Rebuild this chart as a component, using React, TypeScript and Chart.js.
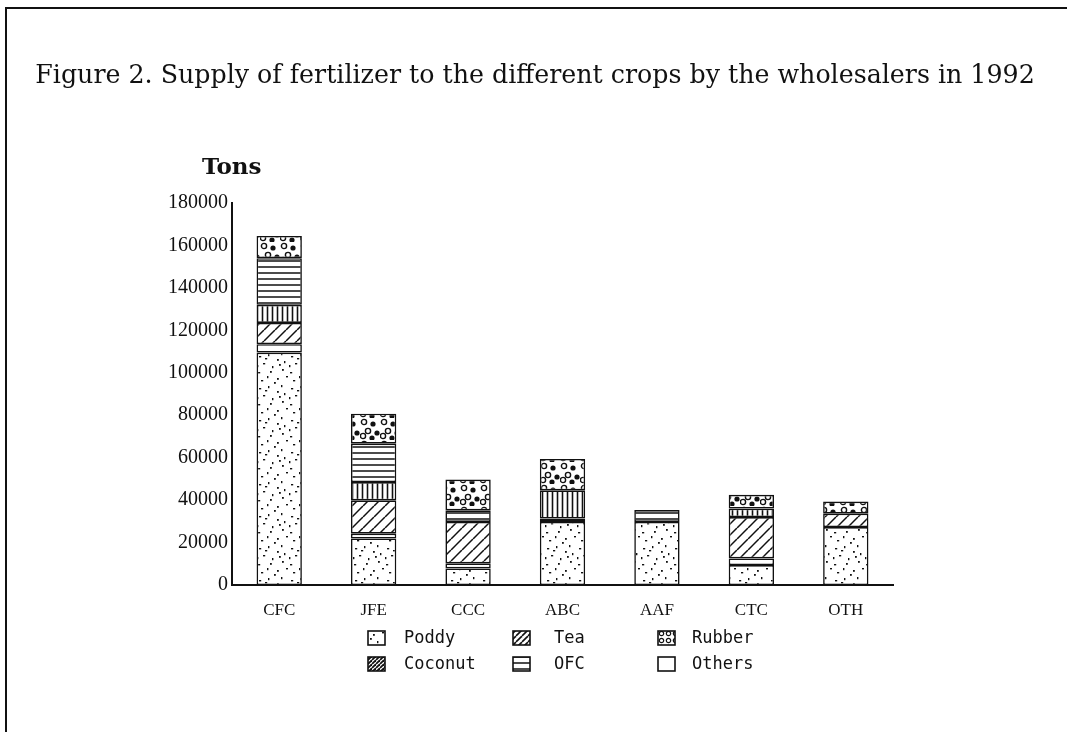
import React, { useEffect, useRef } from "react";
import { Chart, registerables } from "chart.js";

Chart.register(...registerables);

const TITLE = "Figure 2. Supply of fertilizer to the different crops by the wholesalers in 1992";
const Y_TITLE = "Tons";
const categories = ["CFC", "JFE", "CCC", "ABC", "AAF", "CTC", "OTH"];

const poddy = [109500, 21900, 7800, 29700, 29700, 9400, 27300];
const others = [4000, 2300, 2400, 1600, null, 3100, null];
const tea = [10000, 15700, 19500, null, null, 19500, 6300];
const coconut = [8500, 8600, null, 13300, null, 4000, null];
const ofc = [22000, 18100, 5500, null, 5600, null, null];
const rubber = [10500, 14100, 14500, 14800, null, 6500, 5700];

const Y_MAX = 180000;
const Y_STEP = 20000;

const INK = "#111";

type Painter = (g: CanvasRenderingContext2D, w: number, h: number) => void;

function makePattern(ctx: CanvasRenderingContext2D, w: number, h: number, draw: Painter) {
  const c = document.createElement("canvas");
  c.width = w;
  c.height = h;
  const g = c.getContext("2d")!;
  g.fillStyle = "#fff";
  g.fillRect(0, 0, w, h);
  g.strokeStyle = INK;
  g.fillStyle = INK;
  draw(g, w, h);
  return ctx.createPattern(c, "repeat")!;
}

const dotsPainter: Painter = (g) => {
  const pts = [
    [3, 4], [12, 2], [21, 7], [7, 11], [16, 14], [26, 17], [2, 20], [11, 24], [21, 26],
    [9, 6], [25, 1], [14, 19], [5, 28], [28, 9], [18, 30], [30, 24], [1, 13], [23, 12],
  ];
  pts.forEach(([x, y], i) => {
    if (i % 3 === 0) g.fillRect(x, y, 2.2, 1.4);
    else if (i % 3 === 1) g.fillRect(x, y, 1.4, 2.2);
    else g.fillRect(x, y, 1.8, 1.8);
  });
};

const diagPainter = (lw: number): Painter => (g, w, h) => {
  g.lineWidth = lw;
  for (let k = -1; k <= 1; k++) {
    g.beginPath();
    g.moveTo(k * w, h);
    g.lineTo(k * w + w, 0);
    g.stroke();
  }
};

const vertPainter: Painter = (g, w, h) => {
  g.lineWidth = 1.6;
  g.beginPath();
  g.moveTo(w / 2, 0);
  g.lineTo(w / 2, h);
  g.stroke();
};

const horizPainter: Painter = (g, w, h) => {
  g.lineWidth = 1.5;
  g.beginPath();
  g.moveTo(0, h / 2);
  g.lineTo(w, h / 2);
  g.stroke();
};

const rubberPainter: Painter = (g) => {
  g.lineWidth = 1.4;
  const rings = [[4, 4], [13, 6], [8, 13], [17, 15], [3, 18], [12, 20]];
  rings.forEach(([x, y], i) => {
    g.beginPath();
    g.arc(x, y, 2.6, 0, Math.PI * 2);
    if (i % 2 === 0) g.stroke();
    else g.fill();
  });
};

export default function App() {
  const ref = useRef<HTMLCanvasElement | null>(null);

  useEffect(() => {
    const canvas = ref.current!;
    const ctx = canvas.getContext("2d")!;

    const pDots = makePattern(ctx, 32, 32, dotsPainter);
    const pTea = makePattern(ctx, 11, 11, diagPainter(1.5));
    const pTeaIcon = makePattern(ctx, 6, 6, diagPainter(1.6));
    const pCocoIcon = makePattern(ctx, 4, 4, diagPainter(1.8));
    const pVert = makePattern(ctx, 5, 5, vertPainter);
    const pHoriz = makePattern(ctx, 6, 6, horizPainter);
    const pRubber = makePattern(ctx, 20, 22, rubberPainter);
    const pRubberIcon = makePattern(ctx, 7, 7, (g) => {
      g.lineWidth = 1.2;
      g.beginPath();
      g.arc(3.5, 3.5, 2.2, 0, Math.PI * 2);
      g.stroke();
    });

    const seriesDefs = [
      { label: "Poddy", data: poddy, bg: pDots, icon: pDots },
      { label: "Others", data: others, bg: "#fff", icon: "#fff" },
      { label: "Tea", data: tea, bg: pTea, icon: pTeaIcon },
      { label: "Coconut", data: coconut, bg: pVert, icon: pCocoIcon },
      { label: "OFC", data: ofc, bg: pHoriz, icon: pHoriz },
      { label: "Rubber", data: rubber, bg: pRubber, icon: pRubberIcon },
    ];

    const legendOrder = ["Poddy", "Coconut", "Tea", "OFC", "Rubber", "Others"];
    const LEG_COL_ICON = [368, 513, 658];
    const LEG_COL_TEXT = [404, 554, 692];
    const LEG_ROW_Y = [638, 664];

    const decor = {
      id: "decor",
      beforeDraw(chart: any) {
        const c = chart.ctx as CanvasRenderingContext2D;
        c.save();
        c.fillStyle = "#fff";
        c.fillRect(0, 0, chart.width, chart.height);
        c.strokeStyle = INK;
        c.lineWidth = 2;
        c.beginPath();
        c.moveTo(6, chart.height);
        c.lineTo(6, 8);
        c.lineTo(chart.width, 8);
        c.stroke();
        c.fillStyle = INK;
        c.textBaseline = "middle";
        c.textAlign = "center";
        c.font = "22px 'DejaVu Serif'";
        const tw = c.measureText(TITLE).width;
        const size = Math.min(26, (22 * 1000) / tw);
        c.font = `${size.toFixed(1)}px 'DejaVu Serif'`;
        c.fillText(TITLE, 535, 76);
        c.font = "bold 23px 'DejaVu Serif'";
        c.textAlign = "left";
        c.fillText(Y_TITLE, 202, 168);
        c.restore();
      },
      afterDraw(chart: any) {
        const c = chart.ctx as CanvasRenderingContext2D;
        c.save();
        c.font = "17px 'DejaVu Sans Mono'";
        c.textBaseline = "middle";
        c.textAlign = "left";
        legendOrder.forEach((name, i) => {
          const def = seriesDefs.find((d) => d.label === name)!;
          const col = Math.floor(i / 2);
          const row = i % 2;
          const x = LEG_COL_ICON[col];
          const y = LEG_ROW_Y[row];
          c.fillStyle = def.icon as any;
          c.fillRect(x, y - 7, 17, 14);
          c.strokeStyle = INK;
          c.lineWidth = 1.6;
          c.strokeRect(x, y - 7, 17, 14);
          c.fillStyle = INK;
          c.fillText(name, LEG_COL_TEXT[col], y + 1);
        });
        c.restore();
      },
    };

    const chart = new Chart(ctx, {
      type: "bar",
      data: {
        labels: categories,
        datasets: seriesDefs.map((d) => ({
          label: d.label,
          data: d.data as any,
          backgroundColor: d.bg as any,
          borderColor: INK,
          borderWidth: 1.6,
          borderSkipped: false,
          barPercentage: 0.48,
          categoryPercentage: 1,
        })),
      },
      options: {
        animation: false,
        responsive: false,
        layout: { padding: { left: 0, right: 174, top: 203, bottom: 0 } },
        plugins: {
          legend: { display: false },
          title: { display: false },
          tooltip: { enabled: false },
        },
        scales: {
          x: {
            stacked: true,
            grid: { display: false },
            border: { display: true, color: INK, width: 2 },
            ticks: {
              color: INK,
              padding: 7,
              font: { family: "'Liberation Serif'", size: 17 },
            },
            afterFit(scale: any) {
              scale.height = 732 - 585;
            },
          },
          y: {
            stacked: true,
            min: 0,
            max: Y_MAX,
            grid: { display: false, drawTicks: false },
            border: { display: true, color: INK, width: 2 },
            ticks: {
              stepSize: Y_STEP,
              color: INK,
              padding: 4,
              font: { family: "'Liberation Serif'", size: 20 },
              callback: (v: any) => String(v),
            },
            afterFit(scale: any) {
              scale.width = 232;
            },
          },
        },
      },
      plugins: [decor],
    });

    return () => chart.destroy();
  }, []);

  return (
    <canvas
      ref={ref}
      width={1067}
      height={732}
      style={{ position: "absolute", left: 0, top: 0, width: 1067, height: 732 }}
    />
  );
}
